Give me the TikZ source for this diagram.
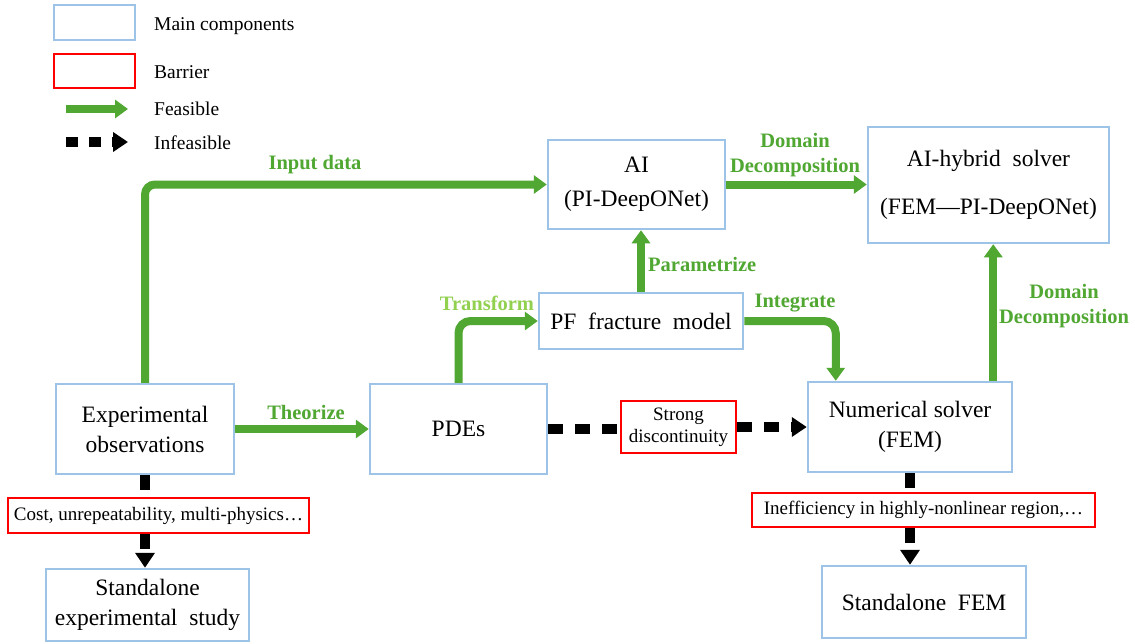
\documentclass[tikz,border=0pt]{standalone}
\usepackage{fontspec}
\setmainfont{Liberation Serif}
\usetikzlibrary{arrows.meta,calc}
\definecolor{fgreen}{RGB}{80,167,50}
\definecolor{lgreen}{RGB}{146,208,80}
\definecolor{bblue}{RGB}{157,195,230}
\definecolor{rred}{RGB}{255,0,0}
\begin{document}
\begin{tikzpicture}[x=1pt,y=-1pt,
 mainbox/.style={draw=bblue,line width=2.5pt,fill=white,align=center,inner sep=0pt,font=\fontsize{23.5}{30}\selectfont},
 barrier/.style={draw=rred,line width=2.5pt,fill=white,align=center,inner sep=0pt,font=\fontsize{19}{22}\selectfont},
 feas/.style={draw=fgreen,line width=8pt,-{Triangle[length=13pt,width=18pt]}},
 infeasline/.style={draw=black,line width=10pt,dash pattern=on 15pt off 12pt},
 infeas/.style={infeasline,-{Triangle[length=15pt,width=19pt]}},
 lab/.style={text=fgreen,font=\bfseries\fontsize{20.5}{25}\selectfont,align=center,inner sep=0pt},
 legtext/.style={anchor=west,inner sep=0pt,font=\fontsize{19.5}{24}\selectfont}]
\useasboundingbox[fill=white] (0,0) rectangle (1135,643);

% legend
\node[mainbox,minimum width=81pt,minimum height=35pt] (lb) at (94.5,22.5) {};
\node[barrier,minimum width=81pt,minimum height=34pt] (lr) at (94.5,71) {};
\coordinate (lf1) at (66,109); \coordinate (lf2) at (128,109);
\coordinate (li1) at (66,142); \coordinate (li2) at (128,142);
\draw[feas] (lf1) -- (lf2);
\draw[infeasline,dash pattern=on 12pt off 11pt,-{Triangle[length=15pt,width=19pt]}] (li1) -- (li2);
\node[legtext] (tl1) at (154,26) {Main components};
\node[legtext] (tl2) at (154,72) {Barrier};
\node[legtext] (tl3) at (154,109) {Feasible};
\node[legtext] (tl4) at (154,143) {Infeasible};

% main boxes
\node[mainbox,minimum width=178pt,minimum height=90pt] (Exp) at (145,429) {Experimental\\observations};
\node[mainbox,minimum width=177pt,minimum height=90pt] (PDEs) at (458.5,429) {PDEs};
\node[barrier,minimum width=115pt,minimum height=52pt] (SD) at (678.5,427) {Strong\\discontinuity};
\node[mainbox,minimum width=204pt,minimum height=90pt] (Num) at (910,427) {Numerical solver\\(FEM)};
\node[mainbox,minimum width=177pt,minimum height=89pt,font=\fontsize{23.5}{34}\selectfont] (AI) at (636.5,184.5) {AI\\(PI-DeepONet)};
\node[mainbox,minimum width=241pt,minimum height=116pt,font=\fontsize{23.5}{48}\selectfont] (Hyb) at (988.5,185) {AI-hybrid\ \ solver\\(FEM---PI-DeepONet)};
\node[mainbox,minimum width=204pt,minimum height=56pt] (PF) at (641,321) {PF\ \ fracture\ \ model};
\node[mainbox,minimum width=203pt,minimum height=72pt] (SES) at (147.5,605) {Standalone\\experimental\ \ study};
\node[mainbox,minimum width=204pt,minimum height=72pt] (SFEM) at (924,602) {Standalone\ \ FEM};
\node[barrier,minimum width=301pt,minimum height=35pt] (Cost) at (158.5,515.5) {Cost, unrepeatability, multi-physics…};
\node[barrier,minimum width=343pt,minimum height=34pt] (Ineff) at (923.5,510) {Inefficiency in highly-nonlinear region,…};

% feasible connectors
\draw[feas,rounded corners=10pt] (Exp.north) |- (AI.west);
\draw[feas] (Exp.east) -- (PDEs.west);
\draw[feas,rounded corners=12pt] (PDEs.north) |- (PF.west);
\draw[feas] (PF.north) -- (PF.north |- AI.south);
\coordinate (intd) at ([xshift=29pt]Num.north west);
\draw[feas,rounded corners=12pt] (PF.east) -| (intd);
\draw[feas] (AI.east) -- (AI.east -| Hyb.west);
\coordinate (dd) at ([xshift=-20pt]Num.north east);
\draw[feas] (dd) -- (dd |- Hyb.south);

% infeasible connectors
\draw[infeasline] (PDEs.east) -- (PDEs.east -| SD.west);
\draw[infeas] (SD.east) -- (SD.east -| Num.west);
\draw[infeasline] (Exp.south) -- (Exp.south |- Cost.north);
\draw[infeas] (Exp.south |- Cost.south) -- (Exp.south |- SES.north);
\draw[infeasline] (Num.south) -- (Num.south |- Ineff.north);
\draw[infeas] (Num.south |- Ineff.south) -- (Num.south |- SFEM.north);

% labels
\node[lab] (l1) at (315,165) {Input data};
\node[lab] (l2) at (306,412) {Theorize};
\node[lab,text=lgreen] (l3) at (487,303) {Transform};
\node[lab,anchor=west] (l4) at (648,264) {Parametrize};
\node[lab] (l5) at (795,303) {Integrate};
\node[lab] (l6) at (795,155) {Domain\\Decomposition};
\node[lab] (l7) at (1064,306) {Domain\\Decomposition};
\end{tikzpicture}
\end{document}
